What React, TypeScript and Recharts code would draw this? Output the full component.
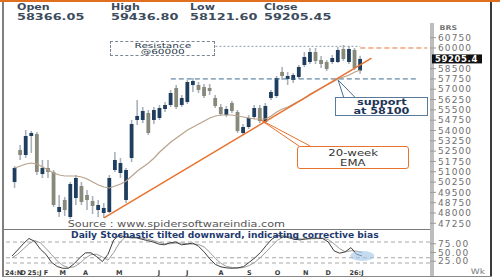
import React from "react"
import { ComposedChart, Bar, Line, XAxis, YAxis, ReferenceLine, ReferenceDot } from "recharts"

const FONT = '"DejaVu Sans", Verdana, sans-serif'

// weekly OHLC
const opens = [
  50254, 52582, 52218, 53600, 53745, 50836, 51273, 50982, 48073, 48945, 47709, 49091, 49964, 49309, 48873, 48218,
  48000, 48073, 51127, 50909, 48945, 52000, 54764, 54764, 55273, 54764, 54909, 55564, 55855, 57091, 55855, 56073,
  57309, 57309, 57164, 57091, 56364, 55709, 55127, 56000, 55345, 53818, 54255, 54982, 55636, 54618, 56364, 56509,
  58255, 57745, 57673, 57891, 58764, 58982, 59709, 59127, 58982, 58982, 58982, 59927, 58982, 59855, 58366.05,
]
const highs = [
  51418, 52945, 54036, 53964, 53891, 51855, 51855, 51127, 49309, 49164, 50254, 50764, 50254, 49673, 49236, 48945,
  48727, 50764, 52436, 52000, 51273, 54764, 56218, 55709, 55491, 55709, 55855, 56073, 56945, 57309, 56582, 57673,
  57818, 57527, 57382, 57382, 56582, 55927, 55782, 56145, 55491, 54473, 55127, 55855, 55855, 56000, 56945, 57964,
  58618, 58255, 58182, 58764, 59709, 60000, 60000, 59418, 59127, 59491, 60073, 60218, 60145, 60000, 59436.8,
]
const lows = [
  49818, 51855, 52000, 52364, 50764, 50545, 50545, 48436, 47709, 47782, 47564, 48582, 48582, 48218, 47927, 47709,
  47636, 48000, 50982, 50545, 48727, 51709, 54400, 54545, 53673, 54473, 54764, 55345, 55709, 55564, 55709, 55927,
  56800, 56727, 56364, 56582, 55636, 55055, 54982, 55273, 53818, 53673, 54109, 54836, 54545, 54473, 56218, 56364,
  57673, 57309, 57455, 57745, 58618, 58836, 58836, 58545, 58327, 58836, 58909, 59055, 58836, 58400, 58121.6,
]
const closes = [
  51273, 52218, 53600, 53818, 50982, 51273, 50982, 48582, 48436, 48218, 50109, 50545, 48800, 48945, 48509, 48582,
  48364, 50545, 51855, 51636, 51127, 54473, 55055, 55418, 53818, 55491, 55636, 55855, 56727, 55709, 56364, 57527,
  57600, 56945, 56509, 56873, 55782, 55200, 55564, 55418, 53964, 54255, 54909, 55636, 54691, 55782, 56800, 57818,
  57964, 57964, 58036, 58618, 59345, 59709, 59055, 58836, 58473, 59273, 59855, 59200, 59927, 58545, 59205.45,
]
const ema20 = [
  51272, 51418, 51563, 51636, 51563, 51345, 51127, 50909, 50763, 50691, 50691, 50691, 50618, 50473, 50254, 50036,
  49891, 49818, 49963, 50109, 50327, 50691, 51054, 51345, 51636, 52000, 52436, 52800, 53163, 53454, 53745, 54036,
  54254, 54473, 54691, 54909, 55054, 55127, 55127, 55127, 55054, 54982, 54909, 54836, 54836, 54836, 55054, 55345,
  55563, 55709, 55927, 56145, 56363, 56654, 56873, 57091, 57309, 57527, 57745, 57891, 58036, 58254, 58400,
]
const stochK = [
  40, 57, 75, 90, 82, 60, 45, 22, 10, 5, 5, 18, 35, 49, 49, 38, 24, 45, 86, 99, 95, 92, 92, 88, 84, 80, 74, 72, 78, 80,
  72, 74, 77, 68, 52, 32, 16, 9, 6, 5, 6, 10, 22, 35, 50, 70, 88, 98, 97, 92, 88, 86, 89, 91, 91, 90, 80, 55, 48, 52,
  64, 45, 40,
]
const stochD = [
  35, 45, 60, 75, 84, 78, 62, 44, 26, 13, 7, 9, 19, 34, 44, 45, 37, 28, 50, 77, 93, 95, 93, 91, 88, 84, 79, 75, 75, 77,
  77, 75, 74, 73, 66, 51, 33, 19, 10, 7, 6, 7, 13, 22, 36, 52, 69, 85, 94, 96, 92, 89, 88, 89, 90, 91, 87, 75, 61, 52,
  55, 54, 50,
]

const priceTicks = [
  47250, 48000, 48750, 49500, 50250, 51000, 51750, 52500, 53250, 54000, 54750, 55500, 56250, 57000, 57750, 58500,
  60000, 60750,
]
const stochTicks = [25, 50, 75]
const stochBands = [80, 35, 20]
const monthSlots = [0, 2, 4, 6, 9, 13, 19, 26, 31, 37, 42, 47, 52, 56, 61]
const monthLabels = ["24:N", "D", "25:J", "F", "M", "A", "M", "J", "J", "A", "S", "O", "N", "D", "26:J"]

const resistance = 60000
const supportLevel = 57750
const trendStart = { slot: 16, price: 47640 }
const trendEnd = { slot: 64, price: 59270 }

const SLOT_COUNT = 75
const slotKeys = Array.from({ length: SLOT_COUNT }, (_, i) => `w${i}`)

const rows = slotKeys.map((slot, i) =>
  i < opens.length
    ? {
        slot,
        range: [lows[i], highs[i]],
        o: opens[i],
        h: highs[i],
        l: lows[i],
        c: closes[i],
        ema: ema20[i],
        k: stochK[i],
        d: stochD[i],
      }
    : { slot }
)

const lastClose = closes[closes.length - 1]

function Candle(props: any) {
  const { x, y, width, height } = props
  const p = props.payload ?? props
  if (!p || p.o == null || !isFinite(y) || !isFinite(height)) return null
  const top = Math.min(y, y + height)
  const span = Math.abs(height)
  const per = span / (p.h - p.l || 1)
  const cx = x + width / 2
  const bTop = top + (p.h - Math.max(p.o, p.c)) * per
  const bBot = top + (p.h - Math.min(p.o, p.c)) * per
  const up = p.c >= p.o
  return (
    <g>
      <line x1={cx} x2={cx} y1={top} y2={top + span} stroke="#a9b2bb" strokeWidth={1.6} />
      <rect x={cx - 1.9} y={bTop} width={3.8} height={Math.max(1.2, bBot - bTop)} fill={up ? "#1f3d5e" : "#878a7b"} />
    </g>
  )
}

function PriceTag(props: any) {
  const vb = props.viewBox
  if (!vb) return null
  const x = vb.x + vb.width + 2
  const y = vb.y
  return (
    <g>
      <rect x={x} y={y - 4.5} width={50} height={9} fill="#111" />
      <text x={x + 3} y={y + 3.2} fill="#fff" fontSize={8.5} fontWeight="bold" fontFamily={FONT} letterSpacing={0.6}>
        {String(Math.floor(lastClose * 10) / 10)}
      </text>
    </g>
  )
}

function MonthTick(props: any) {
  const { x, y, payload } = props
  const idx = slotKeys.indexOf(payload.value)
  const pos = monthSlots.indexOf(idx)
  const label = monthLabels[pos] ?? ""
  const first = pos === 0
  return (
    <text
      x={first ? x - 7 : x}
      y={y + 5}
      textAnchor={first ? "start" : "middle"}
      fontSize={6.5}
      fontWeight="bold"
      fill="#3a3a3a"
      fontFamily={FONT}
    >
      {label}
    </text>
  )
}

const stretch = (sx: number): React.CSSProperties => ({
  display: "inline-block",
  transform: `scaleX(${sx})`,
  transformOrigin: "center",
})

const header = [
  { label: "Open", value: "58366.05", left: 17 },
  { label: "High", value: "59436.80", left: 111 },
  { label: "Low", value: "58121.60", left: 190 },
  { label: "Close", value: "59205.45", left: 264 },
]

const orange = "#e8732f"

export default function App() {
  return (
    <div
      style={{
        position: "absolute",
        left: 0,
        top: 0,
        width: 500,
        height: 280,
        overflow: "hidden",
        background: "#fff",
        fontFamily: FONT,
      }}
    >
      {/* frame */}
      <div style={{ position: "absolute", left: 0, top: 0, width: 500, height: 2, background: "#e07020" }} />
      <div style={{ position: "absolute", left: 2, top: 2, width: 2, height: 275, background: "#808080" }} />
      <div style={{ position: "absolute", left: 490, top: 2, width: 2, height: 275, background: "#3a3a3a" }} />
      <div style={{ position: "absolute", left: 2, top: 276, width: 490, height: 1, background: "#8a8a8a" }} />
      <div style={{ position: "absolute", left: 430, top: 23, width: 4, height: 253, background: "#bdbdbd" }} />
      <div style={{ position: "absolute", left: 4, top: 229, width: 426, height: 1, background: "#7a7a7a" }} />

      {header.map((h) => (
        <div key={h.label} style={{ position: "absolute", left: h.left, top: 2, color: "#3c4c5c", fontWeight: "bold" }}>
          <div style={{ fontSize: 8.5, lineHeight: "10px", transform: "scaleX(1.3)", transformOrigin: "left" }}>
            {h.label}
          </div>
          <div style={{ fontSize: 9.5, lineHeight: "10px", transform: "scaleX(1.35)", transformOrigin: "left" }}>
            {h.value}
          </div>
        </div>
      ))}

      <div style={{ position: "absolute", left: 5, top: 31 }}>
        <ComposedChart width={487} height={198} data={rows} margin={{ top: 0, right: 0, bottom: 0, left: 0 }}>
          <XAxis dataKey="slot" hide padding={{ left: 7, right: 0 }} />
          <YAxis
            orientation="right"
            width={62}
            domain={[46836, 61236]}
            allowDataOverflow
            ticks={priceTicks}
            interval={0}
            axisLine={false}
            tickLine={{ stroke: "#9a9a9a" }}
            tickSize={6}
            tick={{ fontSize: 9, fill: "#707070", fontFamily: FONT, letterSpacing: 1.1 }}
          />
          <ReferenceLine
            segment={[
              { x: "w36", y: resistance + 120 },
              { x: "w62", y: resistance + 120 },
            ]}
            stroke="#8d9aa6"
            strokeDasharray="2 2"
          />
          <ReferenceLine
            segment={[
              { x: "w62", y: resistance },
              { x: "w74", y: resistance },
            ]}
            stroke={orange}
            strokeDasharray="5 3"
          />
          <ReferenceLine
            segment={[
              { x: "w28", y: supportLevel },
              { x: "w72", y: supportLevel },
            ]}
            stroke="#3d6a8f"
            strokeDasharray="5 3"
          />
          <ReferenceLine
            segment={[
              { x: "w58", y: 57680 },
              { x: "w59", y: 56430 },
            ]}
            stroke="#4a6f94"
          />
          <ReferenceLine
            segment={[
              { x: "w58", y: 57680 },
              { x: "w61", y: 56430 },
            ]}
            stroke="#4a6f94"
          />
          <Bar dataKey="range" shape={<Candle />} isAnimationActive={false} />
          <Line dataKey="ema" stroke="#b8a28c" strokeWidth={1.2} dot={false} isAnimationActive={false} />
          <ReferenceLine
            segment={[
              { x: slotKeys[trendStart.slot], y: trendStart.price },
              { x: slotKeys[trendEnd.slot], y: trendEnd.price },
            ]}
            stroke={orange}
            strokeWidth={1.5}
          />
          <ReferenceLine
            segment={[
              { x: "w44", y: 54800 },
              { x: "w51", y: 52870 },
            ]}
            stroke={orange}
          />
          <ReferenceLine
            segment={[
              { x: "w44", y: 54800 },
              { x: "w53", y: 52870 },
            ]}
            stroke={orange}
          />
          <ReferenceLine y={lastClose} stroke="none" label={<PriceTag />} />
        </ComposedChart>
      </div>

      <div style={{ position: "absolute", left: 5, top: 231 }}>
        <ComposedChart width={487} height={46} data={rows} margin={{ top: 4, right: 0, bottom: 0, left: 0 }}>
          <XAxis
            dataKey="slot"
            padding={{ left: 7, right: 0 }}
            height={7}
            axisLine={false}
            tickLine={false}
            tickSize={0}
            tickMargin={0}
            interval={0}
            ticks={monthSlots.map((i) => slotKeys[i])}
            tick={<MonthTick />}
          />
          <YAxis
            orientation="right"
            width={62}
            domain={[0, 100]}
            ticks={stochTicks}
            interval={0}
            axisLine={false}
            tickLine={{ stroke: "#9a9a9a" }}
            tickSize={6}
            tickFormatter={(v: number) => v.toFixed(2)}
            tick={{ fontSize: 9, fill: "#707070", fontFamily: FONT, letterSpacing: 1.1 }}
          />
          {stochBands.map((b) => (
            <ReferenceLine key={b} y={b} stroke="#a8a8a8" strokeDasharray="4 3" />
          ))}
          <ReferenceDot
            x="w62"
            y={40}
            shape={(p: any) => <ellipse cx={p.cx} cy={p.cy} rx={12} ry={5} fill="#9fc3e6" opacity={0.6} />}
          />
          <Line dataKey="d" stroke="#9a9a9a" strokeWidth={1} dot={false} isAnimationActive={false} />
          <Line dataKey="k" stroke="#3e3e3e" strokeWidth={1} dot={false} isAnimationActive={false} />
        </ComposedChart>
      </div>

      {/* annotations */}
      <div style={{ position: "absolute", left: 441, top: 24, fontSize: 6.5, lineHeight: "8px", fontWeight: "bold", color: "#777" }}>
        <span style={stretch(1.2)}>BRS</span>
      </div>
      <div
        style={{
          position: "absolute",
          left: 110,
          top: 41,
          width: 105,
          height: 15,
          border: "1px dashed #7b8794",
          background: "#fff",
          textAlign: "center",
          fontSize: 7,
          lineHeight: "6.5px",
          paddingTop: 0.5,
          color: "#2a3a4a",
          boxSizing: "border-box",
        }}
      >
        <div>
          <span style={stretch(1.5)}>Resistance</span>
        </div>
        <div>
          <span style={stretch(1.5)}>@60000</span>
        </div>
      </div>
      <div
        style={{
          position: "absolute",
          left: 335,
          top: 97,
          width: 91,
          height: 17,
          border: "1px solid #5a7a99",
          background: "#fff",
          textAlign: "center",
          fontSize: 9,
          lineHeight: "8.5px",
          color: "#1d3557",
          fontWeight: "bold",
        }}
      >
        <div>
          <span style={stretch(1.25)}>support</span>
        </div>
        <div>
          <span style={stretch(1.25)}>at 58100</span>
        </div>
      </div>
      <div
        style={{
          position: "absolute",
          left: 297,
          top: 146,
          width: 112,
          height: 23,
          border: `1px solid ${orange}`,
          borderRadius: 3,
          background: "#fff",
          textAlign: "center",
          fontSize: 9,
          lineHeight: "10px",
          color: "#333",
          paddingTop: 1,
          boxSizing: "border-box",
        }}
      >
        <div>
          <span style={stretch(1.3)}>20-week</span>
        </div>
        <div>
          <span style={stretch(1.3)}>EMA</span>
        </div>
      </div>
      <div
        style={{
          position: "absolute",
          left: 56,
          top: 219,
          width: 240,
          textAlign: "center",
          fontSize: 8.5,
          color: "#555",
          whiteSpace: "nowrap",
        }}
      >
        <span style={stretch(1.32)}>Source : www.spidersoftwareindia.com</span>
      </div>
      <div
        style={{
          position: "absolute",
          left: 40,
          top: 231,
          width: 370,
          textAlign: "center",
          fontSize: 8,
          fontWeight: "bold",
          color: "#1e3a6e",
          whiteSpace: "nowrap",
        }}
      >
        <span style={stretch(1.14)}>Daily Stochastic tilted downward, indicating corrective bias</span>
      </div>
      <div style={{ position: "absolute", left: 472, top: 267, fontSize: 7.5, color: "#777" }}>
        <span style={stretch(1.2)}>Wk</span>
      </div>
    </div>
  )
}
